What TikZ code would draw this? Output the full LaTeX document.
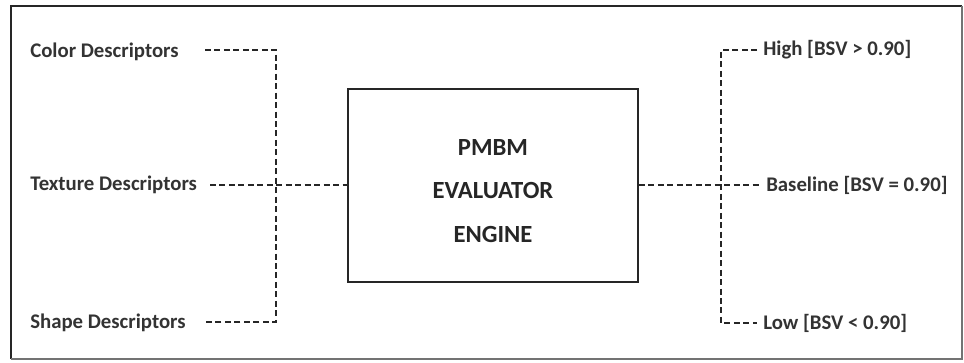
\documentclass[tikz,border=0pt]{standalone}
\usepackage{fontspec}
\setmainfont{Carlito}
\begin{document}
\begin{tikzpicture}[x=0.75pt,y=-0.75pt,
  lbl/.style={font=\bfseries\fontsize{15.6}{18}\selectfont, text=black!80, inner sep=0pt, anchor=west},
  conn/.style={line width=1.6pt, dash pattern=on 4.5pt off 2.6pt, black!85},
  enginebox/.style={draw, line width=1.5pt, black!85, minimum width=217.5pt, minimum height=144.75pt, inner sep=0pt},
  enginetext/.style={align=center, inner sep=0pt, text=black!85, font=\bfseries\fontsize{18.5}{32.5}\selectfont}]
\useasboundingbox (0,0) rectangle (964,362);
% frame
\draw[line width=1.6pt, black!85] (11,359) -- (11,6) -- (962,6);
\draw[line width=0.9pt, black!55] (11,359) -- (962,359) -- (962,6);
% engine
\node[enginebox] (engine) at (493,185.5) {};
\node[enginetext] (enginelbl) at (493,191) {PMBM\\EVALUATOR\\ENGINE};
% left labels
\node[lbl] (color) at (30,52) {Color Descriptors};
\node[lbl] (texture) at (30,185) {Texture Descriptors};
\node[lbl] (shape) at (30,323) {Shape Descriptors};
% right labels
\node[lbl] (high) at (763,50) {High [BSV > 0.90]};
\node[lbl] (base) at (766,185) {Baseline [BSV = 0.90]};
\node[lbl] (low) at (763,323) {Low [BSV < 0.90]};
% coordinates
\coordinate (cs) at (205,50);
\coordinate (ss) at (206,322);
\coordinate (ts) at (210,185);
\coordinate (jlt) at (276,50);
\coordinate (jlb) at (276,322);
\coordinate (he) at (757,50);
\coordinate (le) at (757,323);
\coordinate (be) at (760,185);
\coordinate (jrt) at (721,50);
\coordinate (jrb) at (721,323);
% connectors
\draw[conn] (cs) -- (jlt) -- (jlb) -- (ss);
\draw[conn] (ts) -- (ts -| engine.west);
\draw[conn] (engine.east |- be) -- (be);
\draw[conn] (he) -- (jrt) -- (jrb) -- (le);
\end{tikzpicture}
\end{document}
